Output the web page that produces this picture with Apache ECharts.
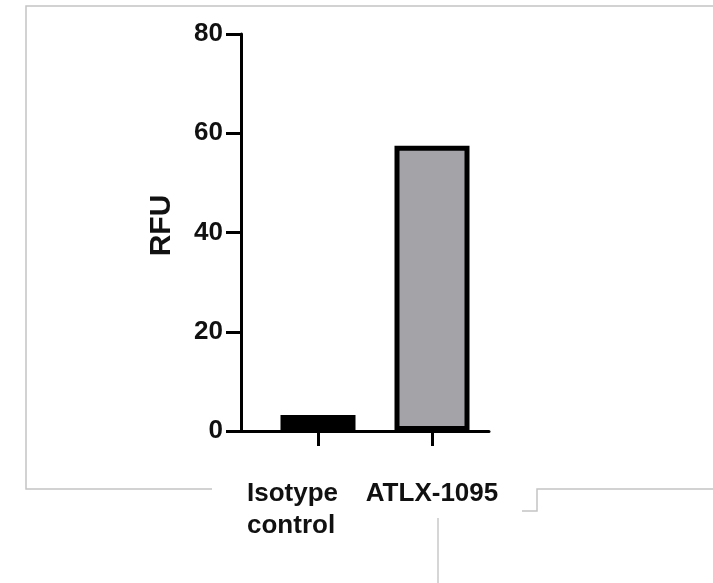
<!DOCTYPE html>
<html>
<head>
<meta charset="utf-8">
<style>
  html, body { margin: 0; padding: 0; background: #fff; }
  #chart { width: 713px; height: 583px; }
</style>
<script src="https://cdn.jsdelivr.net/npm/echarts@6/dist/echarts.min.js"></script>
</head>
<body>
<div id="chart"></div>
<script>
// ---- data ----
const categories = ['Isotype\ncontrol', 'ATLX-1095'];
const rfuValues = [3.2, 57.5];
const barColors = ['#000000', '#a4a3a8'];
const yTicks = [0, 20, 40, 60, 80];
const yAxisName = 'RFU';

const FONT = "'Liberation Sans', Arial, sans-serif";
const chart = echarts.init(document.getElementById('chart'), null, { renderer: 'canvas' });

const yMin = yTicks[0];
const yMax = yTicks[yTicks.length - 1];

const option = {
  backgroundColor: '#ffffff',
  animation: false,
  grid: [
    { left: 241, right: 224, top: 34, bottom: 152, containLabel: false },
    { left: 261, right: 224, top: 34, bottom: 152, containLabel: false }
  ],
  xAxis: [
    {
      // baseline spanning from the y axis to the right end
      gridIndex: 0,
      type: 'value',
      min: 0, max: 1,
      splitLine: { show: false },
      axisLine: { show: true, onZero: false, lineStyle: { color: '#000', width: 3 } },
      axisTick: { show: false },
      axisLabel: { show: false }
    },
    {
      gridIndex: 1,
      type: 'category',
      data: categories,
      boundaryGap: true,
      axisLine: { show: false },
      axisTick: { show: true, alignWithLabel: true, length: 15, lineStyle: { color: '#000', width: 3 } },
      axisLabel: {
        interval: 0,
        margin: 47,
        fontFamily: FONT,
        fontSize: 26,
        fontWeight: 'bold',
        color: '#111',
        lineHeight: 32,
        formatter: function (v, i) {
          if (i === 0) {
            return v.split('\n').map(s => '{iso|' + s + '}').join('\n');
          }
          return v;
        },
        rich: {
          iso: {
            fontFamily: FONT, fontSize: 26, fontWeight: 'bold', color: '#111',
            lineHeight: 32, width: 92, align: 'left', padding: [0, 50, 0, 0]
          }
        }
      }
    }
  ],
  yAxis: [
    {
      gridIndex: 0,
      type: 'value',
      min: yMin, max: yMax, interval: 20,
      name: yAxisName,
      nameLocation: 'middle',
      nameGap: 64,
      nameRotate: 90,
      nameTextStyle: { fontFamily: FONT, fontSize: 30, fontWeight: 'bold', color: '#111', padding: [0, 0, 0, 14] },
      splitLine: { show: false },
      axisLine: { show: true, onZero: false, lineStyle: { color: '#000', width: 3 } },
      axisTick: { show: true, length: 15, lineStyle: { color: '#000', width: 3 } },
      axisLabel: { margin: 18, fontFamily: FONT, fontSize: 26, fontWeight: 'bold', color: '#111' }
    },
    {
      gridIndex: 1,
      type: 'value',
      min: yMin, max: yMax, interval: 20,
      show: false,
      splitLine: { show: false }
    }
  ],
  series: [{
    type: 'bar',
    xAxisIndex: 1,
    yAxisIndex: 1,
    barWidth: 75,
    data: rfuValues.map((v, i) => ({
      value: v,
      itemStyle: { color: barColors[i], borderColor: '#000', borderWidth: 5 }
    }))
  }],
  graphic: [
    { type: 'polyline', shape: { points: [[713, 6], [26, 6], [26, 489], [212, 489]] }, style: { stroke: '#c4c4c4', lineWidth: 1.5, fill: null } },
    { type: 'polyline', shape: { points: [[522, 511], [537, 511], [537, 489], [713, 489]] }, style: { stroke: '#c4c4c4', lineWidth: 1.5, fill: null } },
    { type: 'line', shape: { x1: 438, y1: 518, x2: 438, y2: 583 }, style: { stroke: '#c8c8c8', lineWidth: 1.5 } }
  ]
};
chart.setOption(option);
</script>
</body>
</html>
